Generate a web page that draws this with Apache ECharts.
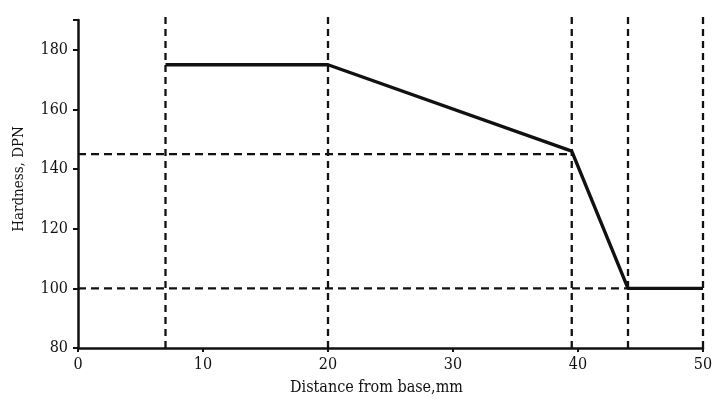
<!DOCTYPE html>
<html>
<head>
<meta charset="utf-8">
<script src="https://cdn.jsdelivr.net/npm/echarts@6/dist/echarts.min.js"></script>
<style>
  html, body { margin: 0; padding: 0; background: #fff; }
  #chart { width: 716px; height: 401px; }
</style>
</head>
<body>
<div id="chart"></div>
<script>
// hardness profile
const distance = [7, 20, 39.5, 44, 50];
const hardness = [175, 175, 146, 100, 100];

// dashed guide lines
const guideX = [7, 20, 39.5, 44, 50];      // vertical guides
const guideYLevels = [145, 100];           // horizontal guides
const guideYEnds = [39.5, 44];             // where each horizontal guide stops
const guideTop = 192;

const ink = '#111';
const font = '"DejaVu Serif Condensed", "Liberation Serif", serif';

const chart = echarts.init(document.getElementById('chart'));

const guideSeries = [];
guideX.forEach((x) => {
  guideSeries.push({
    type: 'line',
    data: [[x, 80], [x, guideTop]],
    symbol: 'none',
    clip: false,
    silent: true,
    lineStyle: { color: ink, width: 2.3, type: [7, 5] },
    z: 1
  });
});
guideYLevels.forEach((y, i) => {
  guideSeries.push({
    type: 'line',
    data: [[0, y], [guideYEnds[i], y]],
    symbol: 'none',
    silent: true,
    lineStyle: { color: ink, width: 2.3, type: [8, 5] },
    z: 1
  });
});

chart.setOption({
  animation: false,
  backgroundColor: '#fff',
  grid: { left: 78, right: 13, top: 20, bottom: 53 },
  xAxis: {
    type: 'value',
    min: 0,
    max: 50,
    interval: 10,
    name: 'Distance from base,mm',
    nameLocation: 'middle',
    nameGap: 32,
    nameTextStyle: { color: ink, fontSize: 16, fontFamily: font, padding: [0, 28, 0, 0] },
    axisLine: { lineStyle: { color: ink, width: 2.5 } },
    axisTick: { show: true, length: 4, lineStyle: { color: ink, width: 2 } },
    axisLabel: { color: ink, fontSize: 16, fontFamily: font, margin: 9 },
    splitLine: { show: false }
  },
  yAxis: {
    type: 'value',
    min: 80,
    max: 190,
    interval: 20,
    name: 'Hardness, DPN',
    nameLocation: 'middle',
    nameGap: 51,
    nameTextStyle: { color: ink, fontSize: 15, fontFamily: font, padding: [0, 0, 0, 10] },
    axisLine: { show: true, lineStyle: { color: ink, width: 2.5 } },
    axisTick: { show: true, length: 5, lineStyle: { color: ink, width: 2 } },
    axisLabel: {
      color: ink, fontSize: 16, fontFamily: font, margin: 10,
      formatter: (v) => (v % 20 === 0 ? String(v) : '')
    },
    splitLine: { show: false }
  },
  series: guideSeries.concat([
    {
      type: 'line',
      data: distance.map((d, i) => [d, hardness[i]]),
      symbol: 'none',
      lineStyle: { color: ink, width: 3.4 },
      z: 3
    }
  ])
});
</script>
</body>
</html>
